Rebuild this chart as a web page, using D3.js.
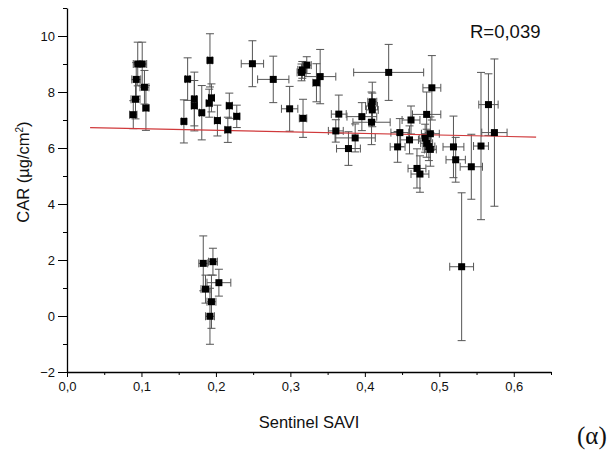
<!DOCTYPE html>
<html><head><meta charset="utf-8">
<script src="https://cdn.jsdelivr.net/npm/d3@7"></script>
<style>
html,body{margin:0;padding:0;background:#fff;}
svg{display:block;font-family:Arial,"Liberation Sans",sans-serif;}
</style></head>
<body>
<svg id="chart" width="615" height="450"></svg>
<script>
// Data
const xVals = [0.095,0.101,0.093,0.104,0.092,0.106,0.089,0.157,0.162,0.171,0.171,0.181,0.192,0.191,0.194,0.202,0.218,0.216,0.228,0.249,0.277,0.322,0.316,0.315,0.340,0.335,0.299,0.317,0.432,0.365,0.361,0.387,0.378,0.396,0.409,0.410,0.409,0.410,0.444,0.447,0.490,0.483,0.462,0.488,0.460,0.481,0.483,0.486,0.488,0.519,0.522,0.543,0.556,0.566,0.574,0.470,0.474,0.530,0.183,0.196,0.204,0.186,0.194,0.192];
const yVals = [9.00,9.00,8.45,8.17,7.74,7.43,7.19,6.95,8.46,7.75,7.51,7.26,9.13,7.60,7.79,6.98,7.51,6.65,7.13,9.01,8.45,8.96,8.79,8.70,8.55,8.33,7.40,7.06,8.70,7.21,6.61,6.36,5.98,7.12,6.92,7.65,7.50,7.36,6.04,6.55,8.15,7.20,7.00,6.51,6.29,6.35,6.17,6.05,5.95,6.04,5.58,5.33,6.07,7.55,6.55,5.27,5.07,1.76,1.88,1.94,1.19,0.96,0.51,-0.01];
const xErr = [0.006,0.006,0.006,0.006,0.006,0.004,0.005,0.003,0.003,0.003,0.004,0.003,0.003,0.004,0.004,0.004,0.004,0.004,0.004,0.015,0.021,0.006,0.006,0.006,0.021,0.005,0.011,0.005,0.047,0.010,0.010,0.027,0.016,0.020,0.025,0.006,0.008,0.008,0.010,0.012,0.012,0.019,0.012,0.012,0.012,0.008,0.008,0.008,0.008,0.014,0.013,0.015,0.010,0.013,0.017,0.012,0.012,0.016,0.006,0.006,0.016,0.006,0.006,0.006];
const yErr = [0.78,0.78,0.60,0.60,0.70,0.80,0.50,0.77,0.76,0.96,0.90,0.97,0.95,0.50,0.50,0.55,0.45,0.45,0.40,0.82,0.83,0.30,0.30,0.30,0.97,0.68,0.80,0.68,1.00,0.68,0.40,0.50,0.60,0.50,0.80,0.70,0.50,0.60,0.55,0.50,1.15,0.80,0.50,0.60,0.50,0.50,0.50,0.50,0.60,1.10,0.80,1.16,2.63,1.10,2.63,0.70,0.65,2.64,0.98,0.48,0.48,0.50,0.95,1.00];
const fitX = [0.031, 0.63];
const fitY = [6.73, 6.39];
const xMajor = [0,0.1,0.2,0.3,0.4,0.5,0.6];
const xMinor = [0.05,0.15,0.25,0.35,0.45,0.55,0.65];
const yMajor = [-2,0,2,4,6,8,10];
const yMinor = [-1,1,3,5,7,9,11];

const svg = d3.select("#chart");
const x = d3.scaleLinear().domain([0,0.65]).range([67,551]);
const y = d3.scaleLinear().domain([-2,11]).range([372,8]);

const comma = v => d3.format(".1f")(v).replace(".", ",");

// Axes
const gx = svg.append("g").attr("transform","translate(0,372)");
gx.call(d3.axisBottom(x).tickValues(xMajor).tickSize(5).tickSizeOuter(0).tickPadding(5).tickFormat(comma));
gx.append("g").call(d3.axisBottom(x).tickValues(xMinor).tickSize(3).tickSizeOuter(0).tickFormat(""))
  .select(".domain").remove();
const gy = svg.append("g").attr("transform","translate(67,0)");
gy.call(d3.axisLeft(y).tickValues(yMajor).tickSize(9).tickSizeOuter(0).tickPadding(3).tickFormat(d3.format("d")));
gy.append("g").call(d3.axisLeft(y).tickValues(yMinor).tickSize(4).tickSizeOuter(0).tickFormat(""))
  .select(".domain").remove();
svg.selectAll(".domain").attr("stroke","#000").attr("stroke-width",1.3);
svg.selectAll(".tick line").attr("stroke","#000").attr("stroke-width",1);
svg.selectAll(".tick text").attr("font-size",13).attr("fill","#111").attr("font-family","Arial, 'Liberation Sans', sans-serif");

// Axis titles
svg.append("text").attr("x",309).attr("y",428).attr("text-anchor","middle")
  .attr("font-size",16.5).attr("fill","#111").text("Sentinel SAVI");
const yt = svg.append("text").attr("transform","translate(29,172) rotate(-90)")
  .attr("text-anchor","middle").attr("font-size",16.5).attr("fill","#111");
yt.append("tspan").text("CAR (µg/cm");
yt.append("tspan").attr("dy",-6).attr("font-size",10).text("2");
yt.append("tspan").attr("dy",6).text(")");

// Error bars
const pts = xVals.map((v,i)=>({x:v,y:yVals[i],xe:xErr[i],ye:yErr[i]}));
const eb = svg.append("g").attr("stroke","#555").attr("stroke-width",1).attr("fill","none");
const cap = 4;
pts.forEach(p=>{
  const cx = x(p.x), cy = y(p.y);
  const y1 = y(p.y+p.ye), y2 = y(p.y-p.ye);
  const x1 = x(p.x-p.xe), x2 = x(p.x+p.xe);
  eb.append("line").attr("x1",cx).attr("x2",cx).attr("y1",y1).attr("y2",y2);
  eb.append("line").attr("x1",cx-cap).attr("x2",cx+cap).attr("y1",y1).attr("y2",y1);
  eb.append("line").attr("x1",cx-cap).attr("x2",cx+cap).attr("y1",y2).attr("y2",y2);
  eb.append("line").attr("x1",x1).attr("x2",x2).attr("y1",cy).attr("y2",cy);
  eb.append("line").attr("x1",x1).attr("x2",x1).attr("y1",cy-cap).attr("y2",cy+cap);
  eb.append("line").attr("x1",x2).attr("x2",x2).attr("y1",cy-cap).attr("y2",cy+cap);
});

// Regression line
const line = d3.line().x(d=>x(d[0])).y(d=>y(d[1]));
svg.append("path").datum(fitX.map((v,i)=>[v,fitY[i]])).attr("d",line)
  .attr("stroke","#d0393b").attr("stroke-width",1.2).attr("fill","none");

// Points
const s = 7;
svg.append("g").selectAll("rect").data(pts).join("rect")
  .attr("x",d=>x(d.x)-s/2).attr("y",d=>y(d.y)-s/2).attr("width",s).attr("height",s).attr("fill","#000");

// Annotations
svg.append("text").attr("x",470).attr("y",38).attr("font-size",18.5).attr("fill","#111").text("R=0,039");
svg.append("text").attr("x",577).attr("y",444).attr("font-size",25)
  .attr("font-family","'Liberation Serif','Times New Roman',serif").attr("fill","#111").text("(α)");
</script>
</body></html>
